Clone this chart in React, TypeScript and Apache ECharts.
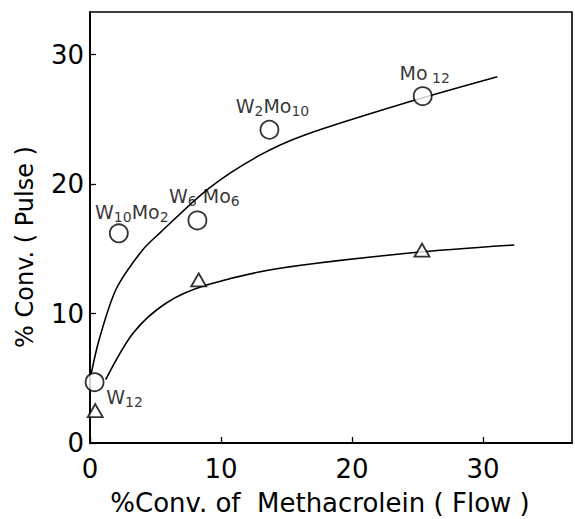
import React, { useEffect, useRef } from "react";
import * as echarts from "echarts";

// Circles: % conv. (pulse) vs % conv. (flow), labelled by catalyst composition
const catalystNames = ["W12", "W10Mo2", "W6Mo6", "W2Mo10", "Mo12"];
const catalystRich = [
  "{m|W}{s|12}",
  "{m|W}{s|10}{m|Mo}{s|2}",
  "{m|W}{s|6}{m| Mo}{s|6}",
  "{m|W}{s|2}{m|Mo}{s|10}",
  "{m|Mo}{s| 12}",
];
const circleX = [0.35, 2.2, 8.2, 13.7, 25.4];
const circleY = [4.7, 16.2, 17.2, 24.2, 26.8];

// Triangles
const triangleX = [0.4, 8.3, 25.35];
const triangleY = [2.5, 12.6, 14.9];

// Hand-drawn trend curves
const upperCurveX = [0.1, 0.7, 2.0, 4.0, 5.3, 9.1, 12.9, 16.4, 24.5, 31.1];
const upperCurveY = [5.4, 8.0, 11.9, 14.9, 16.2, 19.7, 22.2, 23.8, 26.4, 28.3];
const lowerCurveX = [1.2, 3.3, 5.8, 8.9, 14.5, 24.6, 32.4];
const lowerCurveY = [4.9, 8.5, 10.8, 12.2, 13.5, 14.7, 15.3];

const xTickLabels = ["0", "10", "20", "30"];
const yTickLabels = ["0", "10", "20", "30"];

const xAxisTitle = "%Conv. of  Methacrolein ( Flow )";
const yAxisTitle = "% Conv. ( Pulse )";

// label offsets (styling, px) for each catalyst label
const labelOffsets: [number, number][] = [
  [30, 15],
  [13, -21],
  [7, -24],
  [3, -24],
  [2, -23],
];

const FONT = "DejaVu Sans";

export default function App() {
  const ref = useRef<HTMLDivElement>(null);
  useEffect(() => {
    if (!ref.current) return;
    const chart = echarts.init(ref.current, null, { renderer: "svg" });
    const zip = (xs: number[], ys: number[]) => xs.map((x, i) => [x, ys[i]]);
    chart.setOption({
      animation: false,
      backgroundColor: "#fff",
      grid: {
        left: 90,
        top: 12,
        width: 482,
        height: 431,
        show: true,
        borderColor: "#000",
        borderWidth: 1.6,
        backgroundColor: "transparent",
      },
      xAxis: {
        type: "value",
        min: 0,
        max: 36.8,
        interval: 10,
        axisLine: { show: true, lineStyle: { color: "#000", width: 1.8 } },
        axisTick: { show: true, inside: true, length: 6, lineStyle: { color: "#000", width: 1.3 } },
        splitLine: { show: false },
        axisLabel: {
          showMaxLabel: false,
          margin: 13,
          color: "#000",
          fontFamily: FONT,
          fontSize: 26,
          formatter: (v: number) => xTickLabels[Math.round(v / 10)] ?? "",
        },
      },
      yAxis: {
        type: "value",
        min: 0,
        max: 33.3,
        interval: 10,
        axisLine: { show: true, lineStyle: { color: "#000", width: 1.8 } },
        axisTick: { show: true, inside: true, length: 6, lineStyle: { color: "#000", width: 1.3 } },
        splitLine: { show: false },
        axisLabel: {
          showMaxLabel: false,
          margin: 6,
          color: "#000",
          fontFamily: FONT,
          fontSize: 26,
          formatter: (v: number) => yTickLabels[Math.round(v / 10)] ?? "",
        },
      },
      graphic: [
        {
          type: "text",
          x: 320,
          y: 503,
          style: {
            text: xAxisTitle,
            fill: "#000",
            font: `26px "${FONT}"`,
            align: "center",
            verticalAlign: "middle",
          },
        },
        {
          type: "text",
          x: 25,
          y: 247,
          rotation: Math.PI / 2,
          style: {
            text: yAxisTitle,
            fill: "#000",
            font: `24px "${FONT}"`,
            align: "center",
            verticalAlign: "middle",
          },
        },
      ],
      series: [
        {
          type: "line",
          smooth: 0.3,
          symbol: "none",
          data: zip(upperCurveX, upperCurveY),
          lineStyle: { color: "#000", width: 1.6 },
          z: 2,
        },
        {
          type: "line",
          smooth: 0.3,
          symbol: "none",
          data: zip(lowerCurveX, lowerCurveY),
          lineStyle: { color: "#000", width: 1.6 },
          z: 2,
        },
        {
          type: "scatter",
          symbol: "triangle",
          symbolSize: [15, 13],
          data: zip(triangleX, triangleY),
          itemStyle: { color: "#fff", borderColor: "#000", borderWidth: 1.8 },
          z: 3,
        },
        {
          type: "scatter",
          symbol: "circle",
          symbolSize: 18,
          data: circleX.map((x, i) => ({
            name: catalystNames[i],
            value: [x, circleY[i]],
            label: {
              show: true,
              position: "inside",
              offset: labelOffsets[i],
              formatter: catalystRich[i],
            },
          })),
          itemStyle: { color: "#fff", borderColor: "#000", borderWidth: 1.8 },
          label: {
            color: "#000",
            rich: {
              m: { fontFamily: FONT, fontSize: 19, color: "#000" },
              s: { fontFamily: FONT, fontSize: 14, color: "#000", padding: [10, 0, 0, 0] },
            },
          },
          z: 4,
        },
      ],
    });
    return () => chart.dispose();
  }, []);
  return (
    <div
      ref={ref}
      style={{ position: "fixed", left: 0, top: 0, width: 575, height: 519, background: "#fff" }}
    />
  );
}
